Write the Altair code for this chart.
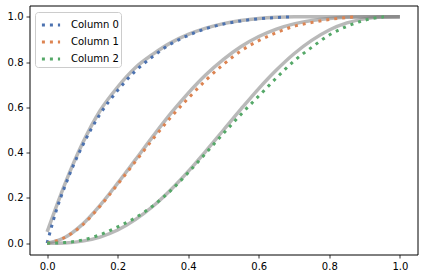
import altair as alt
import pandas as pd

# x grid for the smooth (gray) reference curves
xs = [0.0, 0.05, 0.1, 0.15, 0.2, 0.25, 0.3, 0.35, 0.4, 0.45, 0.5,
      0.55, 0.6, 0.65, 0.7, 0.75, 0.8, 0.85, 0.9, 0.95, 1.0]

ref0 = [0.05, 0.26, 0.44, 0.585, 0.69, 0.775, 0.835, 0.885, 0.922, 0.95, 0.97,
        0.984, 0.993, 0.998, 1.0, 1.0, 1.0, 1.0, 1.0, 1.0, 1.0]
ref1 = [0.0, 0.025, 0.083, 0.167, 0.265, 0.368, 0.472, 0.572, 0.663, 0.744, 0.812,
        0.869, 0.913, 0.946, 0.969, 0.984, 0.993, 0.998, 1.0, 1.0, 1.0]
ref2 = [0.0, 0.001, 0.009, 0.027, 0.058, 0.104, 0.163, 0.235, 0.317, 0.407, 0.5,
        0.593, 0.683, 0.765, 0.837, 0.896, 0.942, 0.973, 0.991, 0.999, 1.0]

# dotted (empirical) curves
x0 = [0.0, 0.025, 0.05, 0.1, 0.15, 0.2, 0.25, 0.3, 0.35, 0.4, 0.45, 0.5, 0.55, 0.6, 0.65, 0.695]
y0 = [0.0, 0.14, 0.25, 0.43, 0.57, 0.675, 0.76, 0.825, 0.88, 0.918, 0.948, 0.968, 0.982, 0.991, 0.997, 1.0]

x1 = [0.0, 0.05, 0.1, 0.15, 0.2, 0.25, 0.3, 0.35, 0.4, 0.45, 0.5, 0.55, 0.6, 0.65, 0.7, 0.75, 0.8, 0.85, 0.873]
y1 = [0.0, 0.025, 0.08, 0.163, 0.26, 0.36, 0.46, 0.555, 0.64, 0.72, 0.79, 0.85, 0.895, 0.93, 0.958, 0.975, 0.988, 0.997, 1.0]

x2 = [0.0, 0.05, 0.1, 0.15, 0.2, 0.25, 0.3, 0.35, 0.4, 0.45, 0.5, 0.55, 0.6, 0.65, 0.7, 0.75, 0.8, 0.85, 0.9, 0.955]
y2 = [0.0, 0.003, 0.014, 0.037, 0.072, 0.112, 0.165, 0.232, 0.312, 0.398, 0.485, 0.57, 0.65, 0.73, 0.805, 0.865, 0.92, 0.958, 0.985, 1.0]

names = ["Column 0", "Column 1", "Column 2"]
colors = ["#4C72B0", "#DD8452", "#55A868"]
ticks = [0.0, 0.2, 0.4, 0.6, 0.8, 1.0]

ref_rows = []
for name, ys in zip(names, [ref0, ref1, ref2]):
    for x, y in zip(xs, ys):
        ref_rows.append({"x": x, "y": y, "series": name})
ref_df = pd.DataFrame(ref_rows)

emp_rows = []
for name, xx, yy in zip(names, [x0, x1, x2], [y0, y1, y2]):
    for x, y in zip(xx, yy):
        emp_rows.append({"x": x, "y": y, "series": name})
emp_df = pd.DataFrame(emp_rows)

xscale = alt.Scale(domain=[-0.05, 1.05], nice=False, zero=False)
yscale = alt.Scale(domain=[-0.05, 1.05], nice=False, zero=False)
xaxis = alt.Axis(values=ticks, format=".1f", title=None, grid=False, domain=False,
                 tickSize=3.5, tickWidth=0.8, tickColor="#000", labelPadding=3,
                 labelFontSize=10, labelColor="#000")
yaxis = alt.Axis(values=ticks, format=".1f", title=None, grid=False, domain=False,
                 tickSize=3.5, tickWidth=0.8, tickColor="#000", labelPadding=3,
                 labelFontSize=10, labelColor="#000")

ref = alt.Chart(ref_df).mark_line(
    color="gray", opacity=0.55, strokeWidth=3.5, interpolate="monotone"
).encode(
    x=alt.X("x:Q", scale=xscale, axis=xaxis),
    y=alt.Y("y:Q", scale=yscale, axis=yaxis),
    detail="series:N",
)

emp = alt.Chart(emp_df).mark_line(
    strokeWidth=3, strokeDash=[3, 5], strokeCap="butt", interpolate="monotone"
).encode(
    x=alt.X("x:Q", scale=xscale, axis=xaxis),
    y=alt.Y("y:Q", scale=yscale, axis=yaxis),
    color=alt.Color("series:N", scale=alt.Scale(domain=names, range=colors),
                    legend=alt.Legend(title=None, orient="none", legendX=5.5, legendY=6.5,
                                      symbolType="stroke", symbolDash=[3, 5],
                                      symbolStrokeWidth=3, symbolSize=330,
                                      symbolOffset=3,
                                      labelFontSize=10, labelColor="#000",
                                      labelOffset=9, rowPadding=-3.2,
                                      padding=2, fillColor="rgba(255,255,255,0.8)",
                                      strokeColor="#cccccc", cornerRadius=3)),
)

chart = alt.layer(ref, emp).properties(
    width=388, height=249,
    padding={"left": 29.5, "top": 5.5, "right": 6.5, "bottom": 25.5},
    autosize=alt.AutoSizeParams(type="none"),
).configure(
    font="DejaVu Sans"
).configure_view(
    stroke="#000", strokeWidth=1
)

chart.save("out.html", embed_options={"renderer": "svg", "actions": False})
